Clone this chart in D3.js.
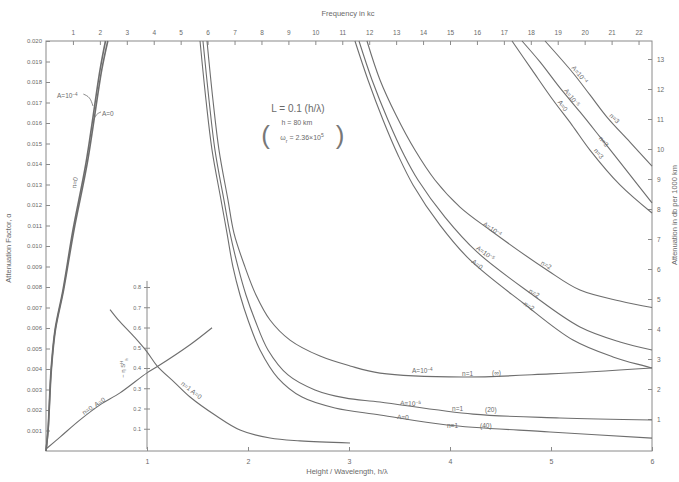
<!DOCTYPE html>
<html><head><meta charset="utf-8">
<script src="https://cdn.jsdelivr.net/npm/d3@7"></script>
<style>
body{margin:0;background:#fff}
svg{display:block}
text{font-family:"Liberation Sans","DejaVu Sans",sans-serif}
</style>
</head><body><svg id="c" width="679" height="482"></svg>
<script>
// ---------- tick labels ----------
const hTicks=[1,2,3,4,5,6];
const alphaTicks=[0.001,0.002,0.003,0.004,0.005,0.006,0.007,0.008,0.009,0.010,0.011,0.012,0.013,0.014,0.015,0.016,0.017,0.018,0.019,0.020];
const freqTicks=[1,2,3,4,5,6,7,8,9,10,11,12,13,14,15,16,17,18,19,20,21,22];
const dbTicks=[1,2,3,4,5,6,7,8,9,10,11,12,13];
const insetTicks=[0.1,0.2,0.3,0.4,0.5,0.6,0.7,0.8];

// ---------- curves: h/lambda and attenuation factor ----------
const n0A0_h=[0.0,0.020,0.030,0.050,0.089,0.168,0.267,0.396,0.535,0.589];
const n0A0_a=[0.0,0.00102,0.00200,0.00395,0.00590,0.00785,0.01078,0.01405,0.01859,0.0200];
const n0A4_h=[0.0,0.021,0.032,0.053,0.093,0.174,0.277,0.409,0.552,0.612];
const n0A4_a=[0.0,0.00102,0.00200,0.00395,0.00590,0.00785,0.01078,0.01405,0.01859,0.0200];

const n1A0_h=[1.525,1.584,1.644,1.733,1.792,1.851,1.921,2.000,2.119,2.297,2.535,2.861,3.307,3.970,4.990,6.0];
const n1A0_a=[0.0200,0.01712,0.01468,0.01224,0.01063,0.00898,0.00761,0.00639,0.00493,0.00356,0.00263,0.00210,0.00176,0.00127,0.00093,0.00063];
const n1A5_h=[1.554,1.614,1.673,1.762,1.822,1.901,1.980,2.069,2.198,2.396,2.663,2.960,3.307,4.228,5.089,6.0];
const n1A5_a=[0.0200,0.01712,0.01468,0.01224,0.01063,0.00898,0.00761,0.00639,0.00493,0.00371,0.00298,0.00259,0.00239,0.00180,0.00161,0.00151];
const n1A4_h=[1.594,1.653,1.713,1.802,1.861,1.970,2.079,2.218,2.416,2.713,3.010,3.307,4.129,4.990,6.0];
const n1A4_a=[0.0200,0.01712,0.01468,0.01224,0.01063,0.00898,0.00761,0.00639,0.00541,0.00463,0.00415,0.00380,0.00361,0.00376,0.00405];

const n2A0_h=[3.059,3.188,3.337,3.485,3.634,3.901,4.198,4.723,5.218,5.614,6.0];
const n2A0_a=[0.0200,0.01810,0.01615,0.01444,0.01298,0.01102,0.00932,0.00722,0.00541,0.00459,0.00405];
const n2A5_h=[3.099,3.228,3.386,3.545,3.683,3.950,4.267,4.792,5.287,5.683,6.0];
const n2A5_a=[0.0200,0.01810,0.01615,0.01444,0.01322,0.01141,0.00971,0.00771,0.00605,0.00532,0.00493];
const n2A4_h=[3.178,3.307,3.465,3.653,3.851,4.099,4.396,4.960,5.287,5.683,6.0];
const n2A4_a=[0.0200,0.01810,0.01639,0.01468,0.01322,0.01190,0.01078,0.00883,0.00785,0.00732,0.00700];

const n3A0_h=[4.614,4.812,5.020,5.208,5.386,5.683,6.0];
const n3A0_a=[0.0200,0.01859,0.01712,0.01590,0.01468,0.01298,0.01161];
const n3A5_h=[4.713,4.891,5.089,5.287,5.485,5.743,6.0];
const n3A5_a=[0.0200,0.01898,0.01771,0.01654,0.01532,0.01371,0.01210];
const n3A4_h=[4.941,5.218,5.386,5.554,5.782,6.0];
const n3A4_a=[0.0200,0.01844,0.01737,0.01629,0.01507,0.01390];

// inset curves (-eta S_h^H)
const in0_h=[0.0,0.139,0.337,0.535,0.733,1.000,1.099,1.426,1.644];
const in0_v=[0.0,0.059,0.144,0.218,0.277,0.376,0.406,0.515,0.599];
const in1_h=[0.634,0.713,0.881,1.000,1.099,1.277,1.426,1.673,1.921,2.218,2.515,3.010];
const in1_v=[0.688,0.639,0.550,0.480,0.411,0.327,0.257,0.168,0.094,0.054,0.040,0.030];

// ---------- drawing ----------
const svg=d3.select("#c");
const x=d3.scaleLinear([0,6],[46,652]);
const y=d3.scaleLinear([0,0.02],[451,41]);
const f=d3.scaleLinear([0,22.5],[46,652]);
const db=d3.scaleLinear([0,13.6],[449,41]);
const yi=d3.scaleLinear([0,0.8],[449,287]);

const zip=(a,b)=>a.map((v,i)=>[v,b[i]]);
const line=d3.line().x(d=>x(d[0])).y(d=>y(d[1])).curve(d3.curveCatmullRom.alpha(0.5));
const lineI=d3.line().x(d=>x(d[0])).y(d=>yi(d[1])).curve(d3.curveCatmullRom.alpha(0.5));

const ink="#6e6e6e", txt="#6a6a6a";
// frame
svg.append("rect").attr("x",x(0)).attr("y",y(0.02)).attr("width",x(6)-x(0)).attr("height",y(0)-y(0.02))
  .attr("fill","none").attr("stroke","#8a8a8a").attr("stroke-width",1);

function styleAxis(g){g.select(".domain").remove();g.selectAll("line").attr("stroke","#8a8a8a");g.selectAll("text").attr("fill",txt).attr("font-family","Liberation Sans, sans-serif");}
svg.append("g").attr("transform",`translate(${x(0)},0)`).call(d3.axisLeft(y).tickValues(alphaTicks).tickSize(-4).tickPadding(4).tickFormat(d3.format(".3f"))).call(styleAxis).selectAll("text").attr("font-size","6px");
svg.append("g").attr("transform",`translate(0,${y(0.02)})`).call(d3.axisTop(f).tickValues(freqTicks).tickSize(-4).tickPadding(6).tickFormat(d3.format("d"))).call(styleAxis).selectAll("text").attr("font-size","6.5px");
svg.append("g").attr("transform",`translate(${x(6)},0)`).call(d3.axisRight(db).tickValues(dbTicks).tickSize(-4).tickPadding(5).tickFormat(d3.format("d"))).call(styleAxis).selectAll("text").attr("font-size","6.5px");
svg.append("g").attr("transform",`translate(0,${y(0)})`).call(d3.axisBottom(x).tickValues(hTicks).tickSize(-4).tickPadding(8).tickFormat(d3.format("d"))).call(styleAxis).selectAll("text").attr("font-size","7px");

// inset axis
const ia=svg.append("g").attr("transform",`translate(${x(1)},0)`).call(d3.axisLeft(yi).tickValues(insetTicks).tickSize(3).tickPadding(3).tickFormat(d3.format(".1f")));
ia.select(".domain").remove();
ia.selectAll("line").attr("stroke","#8a8a8a").attr("x2",3).attr("x1",-3);
ia.selectAll("text").attr("font-size","5.5px").attr("fill",txt);
ia.append("line").attr("x1",0).attr("x2",0).attr("y1",yi(0.83)).attr("y2",yi(0)).attr("stroke","#8a8a8a");

// curves
const curves=[
 [n0A0_h,n0A0_a,1.6],[n0A4_h,n0A4_a,1.6],
 [n1A0_h,n1A0_a,1.1],[n1A5_h,n1A5_a,1.1],[n1A4_h,n1A4_a,1.1],
 [n2A0_h,n2A0_a,1.1],[n2A5_h,n2A5_a,1.1],[n2A4_h,n2A4_a,1.1],
 [n3A0_h,n3A0_a,1.1],[n3A5_h,n3A5_a,1.1],[n3A4_h,n3A4_a,1.1]];
curves.forEach(c=>svg.append("path").attr("d",line(zip(c[0],c[1]))).attr("fill","none").attr("stroke",ink).attr("stroke-width",c[2]));
[[in0_h,in0_v],[in1_h,in1_v]].forEach(c=>svg.append("path").attr("d",lineI(zip(c[0],c[1]))).attr("fill","none").attr("stroke",ink).attr("stroke-width",1.1));

// ---------- text ----------
function lab(X,A,parts,opt={}){
  const t=svg.append("text").attr("x",x(X)).attr("y",y(A)).attr("font-size",(opt.size||6.5)+"px")
    .attr("fill",txt).attr("text-anchor",opt.anchor||"start");
  if(opt.rot) t.attr("transform",`rotate(${opt.rot},${x(X)},${y(A)})`);
  parts.forEach(p=>{ if(typeof p==="string") t.append("tspan").attr("fill",txt).text(p);
    else t.append("tspan").attr("fill",txt).attr("baseline-shift",p.sub?"sub":"super").attr("font-size",((opt.size||6.5)*0.72)+"px").text(p.s);});
  return t;
}
// n = 1 labels
lab(3.624,0.00380,["A=10",{s:"−4"}]); lab(4.119,0.00366,["n=1"]); lab(4.416,0.00371,["(∞)"]);
lab(3.505,0.00224,["A=10",{s:"−5"}],{rot:3}); lab(4.020,0.00195,["n=1"]); lab(4.347,0.00190,["(20)"]);
lab(3.475,0.00156,["A=0"],{rot:3}); lab(3.970,0.00112,["n=1"]); lab(4.297,0.00112,["(40)"]);
// n = 2 labels
lab(4.406,0.01073,["A=10",{s:"−4"}],{anchor:"middle",rot:35}); lab(4.941,0.00898,["n=2"],{anchor:"middle",rot:30});
lab(4.337,0.00956,["A=10",{s:"−5"}],{anchor:"middle",rot:36}); lab(4.822,0.00761,["n=2"],{anchor:"middle",rot:30});
lab(4.257,0.00902,["A=0"],{anchor:"middle",rot:38}); lab(4.772,0.00698,["n=2"],{anchor:"middle",rot:32});
// n = 3 labels
lab(5.267,0.01829,["A=10",{s:"−4"}],{anchor:"middle",rot:50}); lab(5.614,0.01615,["n=3"],{anchor:"middle",rot:45});
lab(5.188,0.01717,["A=10",{s:"−5"}],{anchor:"middle",rot:52}); lab(5.505,0.01502,["n=3"],{anchor:"middle",rot:50});
lab(5.099,0.01678,["A=0"],{anchor:"middle",rot:54}); lab(5.455,0.01444,["n=3"],{anchor:"middle",rot:50});
// n = 0 labels
lab(0.109,0.01722,["A=10",{s:"−4"}]);
lab(0.554,0.01634,["A=0"]);
lab(0.307,0.01307,["n=0"],{anchor:"middle",rot:-80});
const arrow=d3.line().x(d=>x(d[0])).y(d=>y(d[1])).curve(d3.curveNatural);
svg.append("path").attr("d",arrow([[0.37,0.01741],[0.43,0.01722],[0.465,0.01683]])).attr("fill","none").attr("stroke",ink).attr("stroke-width",0.8);
svg.append("path").attr("d",arrow([[0.545,0.01654],[0.50,0.01640],[0.465,0.01610]])).attr("fill","none").attr("stroke",ink).attr("stroke-width",0.8);
// inset labels
lab(0.485,0.0021,["n=0,  A=0"],{anchor:"middle",rot:-33});
lab(1.426,0.00288,["n=1   A=0"],{anchor:"middle",rot:38});
lab(0.782,0.00405,["− η S",{s:"H"},{s:"h",sub:true}],{anchor:"middle",rot:-90,size:6});

// parameter block
lab(2.495,0.01654,["L = 0.1  (h/λ)"],{anchor:"middle",size:10});
lab(2.485,0.01590,["h = 80 km"],{anchor:"middle",size:7});
lab(2.535,0.01517,["ω",{s:"r",sub:true}," = 2.36×10",{s:"5"}],{anchor:"middle",size:7});
svg.append("text").attr("x",x(2.13)).attr("y",y(0.01500)).attr("font-size","26px").attr("font-weight","200").attr("fill","#777").text("(");
svg.append("text").attr("x",x(2.87)).attr("y",y(0.01500)).attr("font-size","26px").attr("font-weight","200").attr("fill","#777").text(")");

// axis titles
svg.append("text").attr("x",348).attr("y",16).attr("text-anchor","middle").attr("font-size","7.5px").attr("fill",txt).text("Frequency in kc");
svg.append("text").attr("x",347).attr("y",474).attr("text-anchor","middle").attr("font-size","7.5px").attr("fill",txt).text("Height / Wavelength, h/λ");
svg.append("text").attr("transform","translate(11,248) rotate(-90)").attr("text-anchor","middle").attr("font-size","7.5px").attr("fill",txt).text("Attenuation Factor, α");
svg.append("text").attr("transform","translate(677,215) rotate(-90)").attr("text-anchor","middle").attr("font-size","7.5px").attr("fill",txt).text("Attenuation in db per 1000 km");
</script></body></html>
